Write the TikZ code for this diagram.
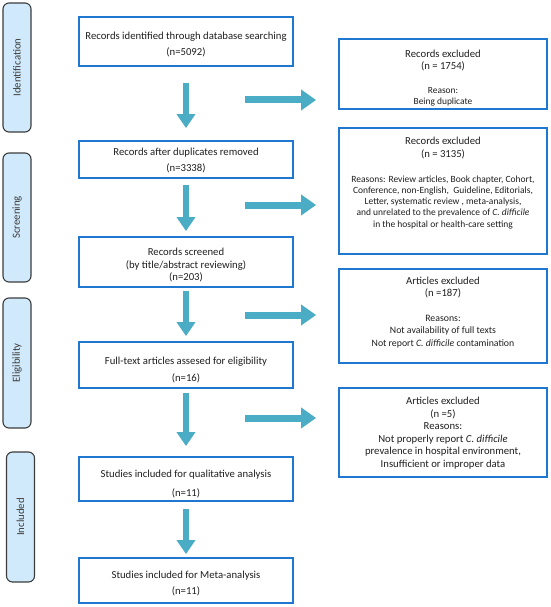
\documentclass[tikz,border=0pt]{standalone}
\usepackage{fontspec}
\setmainfont{Carlito}
\usetikzlibrary{arrows.meta}
\definecolor{boxblue}{RGB}{31,119,208}
\definecolor{arrowblue}{RGB}{75,172,198}
\definecolor{phasefill}{RGB}{208,233,251}
\definecolor{phaseline}{RGB}{60,60,60}
\definecolor{txt}{RGB}{30,30,30}
\newcommand\padtop[1]{\rule{0pt}{#1}}
\begin{document}
\begin{tikzpicture}[x=1pt,y=-1pt,
  mainbox/.style={draw=boxblue, line width=1.8pt, minimum width=214pt, inner sep=0pt, align=center, font=\fontsize{10.7}{12.5}\selectfont, text=txt},
  rbox/.style={draw=boxblue, line width=1.8pt, minimum width=208pt, inner sep=0pt},
  rtext/.style={align=center, font=\fontsize{10.7}{12.5}\selectfont, text=txt, inner sep=0pt},
  phase/.style={draw=phaseline, line width=1.1pt, fill=phasefill, rounded corners=6pt, minimum height=28pt, inner sep=0pt, rotate=90, font=\fontsize{10.8}{12}\selectfont, text=phaseline},
  darrow/.style={draw=arrowblue, line width=6pt, -{Triangle[width=18pt,length=14pt]}},
  harrow/.style={draw=arrowblue, line width=7pt, -{Triangle[width=20pt,length=15pt]}},
]
\useasboundingbox (0,0) rectangle (550,607);

% phase labels
\node[phase, minimum width=129pt] (p1) at (17,67.5) {Identification};
\node[phase, minimum width=129pt] (p2) at (17,217.5) {Screening};
\node[phase, minimum width=130pt] (p3) at (17,363) {Eligibility};
\node[phase, minimum width=130pt] (p4) at (20.5,517) {Included};

% main column
\node[mainbox, minimum height=49pt] (b1) at (186,41.5) {\padtop{13.4pt}Records identified through database searching\\[3.5pt](n=5092)};
\node[mainbox, minimum height=37pt] (b2) at (186,159.5) {\padtop{9.4pt}Records after duplicates removed\\[3.5pt](n=3338)};
\node[mainbox, minimum height=50pt] (b3) at (186,262) {\padtop{14.4pt}Records screened\\(by title/abstract reviewing)\\(n=203)};
\node[mainbox, minimum height=46pt] (b4) at (186,365) {\padtop{18.4pt}Full-text articles assesed for eligibility\\[4.5pt](n=16)};
\node[mainbox, minimum height=44pt] (b5) at (186,479) {\padtop{17.4pt}Studies included for qualitative analysis\\[6.5pt](n=11)};
\node[mainbox, minimum height=45pt] (b6) at (186,580.5) {\padtop{14.4pt}Studies included for Meta-analysis\\[3.5pt](n=11)};

% right column
\node[rbox, minimum height=70pt] (r1) at (443,74) {};
\node[rtext, yshift=-4pt] (r1t) at (r1.center) {Records excluded\\(n = 1754)\\[11.5pt]{\fontsize{9.4}{11}\selectfont Reason:}\\[-1.5pt]{\fontsize{9.4}{11}\selectfont Being duplicate}};

\node[rbox, minimum height=126pt] (r2) at (443,191) {};
\node[rtext, yshift=8pt] (r2t) at (r2.center) {Records excluded\\(n = 3135)\\[12.5pt]%
{\fontsize{9.5}{11.3}\selectfont Reasons: Review articles, Book chapter, Cohort,}\\[-1.2pt]
{\fontsize{9.5}{11.3}\selectfont Conference, non-English,\ \ Guideline, Editorials,}\\[-1.2pt]
{\fontsize{9.5}{11.3}\selectfont Letter, systematic review , meta-analysis,}\\[-1.2pt]
{\fontsize{9.5}{11.3}\selectfont and unrelated to the prevalence of \textit{C. difficile}}\\[-1.2pt]
{\fontsize{9.5}{11.3}\selectfont in the hospital or health-care setting}};

\node[rbox, minimum height=94pt] (r3) at (443,316) {};
\node[rtext, yshift=3.5pt] (r3t) at (r3.center) {Articles excluded\\[-0.5pt](n =187)\\[12pt]%
{\fontsize{9.8}{12}\selectfont Reasons:}\\
{\fontsize{9.8}{12}\selectfont Not availability of full texts}\\
{\fontsize{9.8}{12}\selectfont Not report \textit{C. difficile} contamination}};

\node[rbox, minimum height=89pt] (r4) at (443,432.5) {};
\node[rtext, yshift=-0.5pt] (r4t) at (r4.center) {Articles excluded\\(n =5)\\Reasons:\\Not properly report \textit{C. difficile}\\prevalence in hospital environment,\\Insufficient or improper data};

% down arrows
\draw[darrow, shorten <=16pt, shorten >=12pt] (b1) -- (b2);
\draw[darrow, shorten <=6pt, shorten >=5pt] (b2) -- (b3);
\draw[darrow, shorten <=3pt, shorten >=5pt] (b3) -- (b4);
\draw[darrow, shorten <=4pt, shorten >=10pt] (b4) -- (b5);
\draw[darrow, shorten <=7pt, shorten >=3pt] (b5) -- (b6);

% right arrows
\coordinate (h1) at (245,100);
\coordinate (h2) at (245,205);
\coordinate (h3) at (245,315);
\coordinate (h4) at (245,418);
\draw[harrow, shorten >=22pt] (h1) -- (h1 -| r1.west);
\draw[harrow, shorten >=22pt] (h2) -- (h2 -| r2.west);
\draw[harrow, shorten >=22pt] (h3) -- (h3 -| r3.west);
\draw[harrow, shorten >=22pt] (h4) -- (h4 -| r4.west);
\end{tikzpicture}
\end{document}
